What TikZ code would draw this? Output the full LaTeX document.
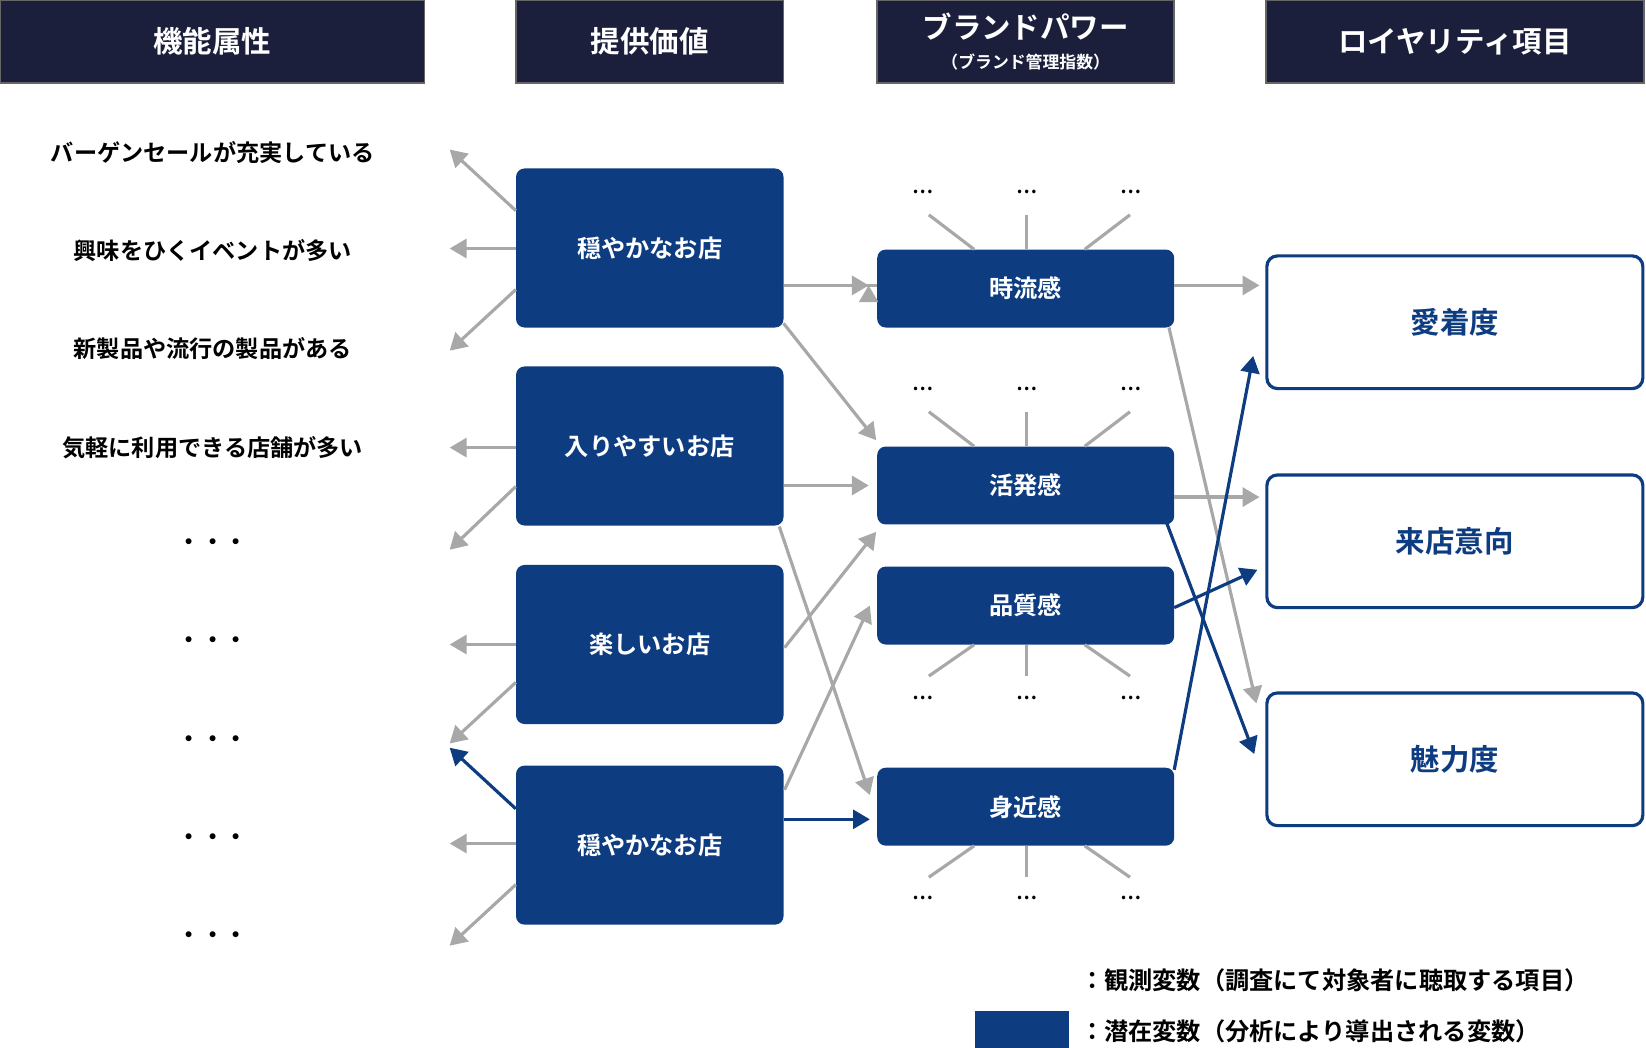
\documentclass[tikz,border=0pt]{standalone}
\usepackage{fontspec}
\setmainfont{Noto Sans CJK JP}[BoldFont={Noto Sans CJK JP Bold}]
\usetikzlibrary{arrows.meta}
\definecolor{hdr}{HTML}{1B1F3B}
\definecolor{nv}{HTML}{0D3C80}
\definecolor{gr}{HTML}{A8A8A8}
\begin{document}
\begin{tikzpicture}[x=1pt,y=-1pt,
 hd/.style={draw=gray!80!black,line width=1.5pt,fill=hdr,text=white,font=\bfseries\fontsize{28}{30}\selectfont,inner sep=0},
 pv/.style={fill=nv,rounded corners=8pt,text=white,font=\bfseries\fontsize{23}{25}\selectfont,inner sep=0},
 ly/.style={draw=nv,line width=3pt,fill=white,rounded corners=10pt,text=nv,font=\bfseries\fontsize{28}{30}\selectfont,inner sep=0},
 lt/.style={font=\bfseries\fontsize{22}{24}\selectfont,anchor=center},
 dt/.style={font=\bfseries\fontsize{18}{20}\selectfont},
 ga/.style={draw=gr,line width=3pt,-{Triangle[length=16pt,width=18pt]}},
 ba/.style={draw=nv,line width=3pt,-{Triangle[length=16pt,width=18pt]}},
 sp/.style={draw=gr,line width=3pt}]
\useasboundingbox (0,0) rectangle (1563,995);
% headers
\node[hd,minimum width=403pt,minimum height=79pt] (h1) at (201.5,39.5) {機能属性};
\node[hd,minimum width=254pt,minimum height=79pt] (h2) at (617,39.5) {提供価値};
\node[hd,minimum width=282pt,minimum height=79pt,align=center] (h3) at (974,39.5) {ブランドパワー\\[-2pt]{\fontsize{16}{18}\selectfont（ブランド管理指数）}};
\node[hd,minimum width=359pt,minimum height=79pt] (h4) at (1381.5,39.5) {ロイヤリティ項目};
% left texts
\node[lt] (t1) at (202,145) {バーゲンセールが充実している};
\node[lt] (t2) at (202,238) {興味をひくイベントが多い};
\node[lt] (t3) at (202,331) {新製品や流行の製品がある};
\node[lt] (t4) at (202,425) {気軽に利用できる店舗が多い};
\foreach \y/\n in {517/d1,610/d2,704/d3,797/d4,890/d5} \node[lt] (\n) at (202,\y) {・・・};
% left arrow ends
\foreach \y/\n in {142/e1,236/e2,333/e3,425/e4,522/e5,612/e6,706/e7,710/e8,801/e9,898/e10} \coordinate (\n) at (427,\y);
% provided value boxes
\node[pv,minimum width=254pt,minimum height=151pt] (p1) at (617,235.5) {穏やかなお店};
\node[pv,minimum width=254pt,minimum height=151pt] (p2) at (617,423.5) {入りやすいお店};
\node[pv,minimum width=254pt,minimum height=151pt] (p3) at (617,612) {楽しいお店};
\node[pv,minimum width=254pt,minimum height=151pt] (p4) at (617,802.5) {穏やかなお店};
\draw[ga] (p1.west|-0,200) -- (e1);
\draw[ga] (p1.west|-0,236) -- (e2);
\draw[ga] (p1.west|-0,275) -- (e3);
\draw[ga] (p2.west|-0,425) -- (e4);
\draw[ga] (p2.west|-0,462) -- (e5);
\draw[ga] (p3.west|-0,612) -- (e6);
\draw[ga] (p3.west|-0,648) -- (e7);
\draw[ba] (p4.west|-0,768) -- (e8);
\draw[ga] (p4.west|-0,801) -- (e9);
\draw[ga] (p4.west|-0,840) -- (e10);
% brand boxes
\node[pv,minimum width=282pt,minimum height=74pt] (b1) at (974,274) {時流感};
\node[pv,minimum width=282pt,minimum height=74pt] (b2) at (974,461) {活発感};
\node[pv,minimum width=282pt,minimum height=74pt] (b3) at (974,575) {品質感};
\node[pv,minimum width=282pt,minimum height=74pt] (b4) at (974,766) {身近感};
% spokes
\foreach \b/\s/\yt/\yd/\dy in {b1/north/204/182/-1,b2/north/391/369/-1,b3/south/642/663/1,b4/south/833/853/1}{
  \node[dt] (\b x1) at (876,\yd) {…};
  \node[dt] (\b x2) at (975,\yd) {…};
  \node[dt] (\b x3) at (1074,\yd) {…};
  \draw[sp] (\b.\s -| 0,0) ++(925,0) -- (882,\yt);
  \draw[sp] (\b.\s -| 0,0) ++(975,0) -- (975,\yt);
  \draw[sp] (\b.\s -| 0,0) ++(1030,0) -- (1073,\yt);
}
% loyalty boxes
\node[ly,minimum width=357pt,minimum height=126pt] (l1) at (1381.5,306) {愛着度};
\node[ly,minimum width=357pt,minimum height=126pt] (l2) at (1381.5,514) {来店意向};
\node[ly,minimum width=357pt,minimum height=126pt] (l3) at (1381.5,721) {魅力度};
% middle arrows
\draw[ga] (p1.east|-0,271) -- (b1.west|-0,271) ++(-8,0);
\draw[ga] (744,271) -- (825,271);
\draw[ga] (744,307) -- (832,418);
\draw[ga] (744,461) -- (825,461);
\draw[ga] (740,500) -- (826,755);
\draw[ga] (745,615) -- (832,505);
\draw[ga] (745,750) -- (826,575);
\draw[ba] (744,778) -- (826,778);
% right arrows
\draw[ga] (1115,271) -- (1196,271);
\draw[ga] (1110,311) -- (1193,668);
\draw[ga] (1115,472) -- (1196,472);
\draw[ba] (1108,497) -- (1191,716);
\draw[ba] (1115,577) -- (1194,541);
\draw[ba] (1115,731) -- (1190,338);
% legend
\node[fill=nv,minimum width=89pt,minimum height=38pt,inner sep=0] (lg) at (970.5,979) {};
\node[font=\bfseries\fontsize{23}{25}\selectfont,anchor=west] (lg1) at (1022,931) {：観測変数（調査にて対象者に聴取する項目）};
\node[font=\bfseries\fontsize{23}{25}\selectfont,anchor=west] (lg2) at (1022,979) {：潜在変数（分析により導出される変数）};
\end{tikzpicture}
\end{document}
